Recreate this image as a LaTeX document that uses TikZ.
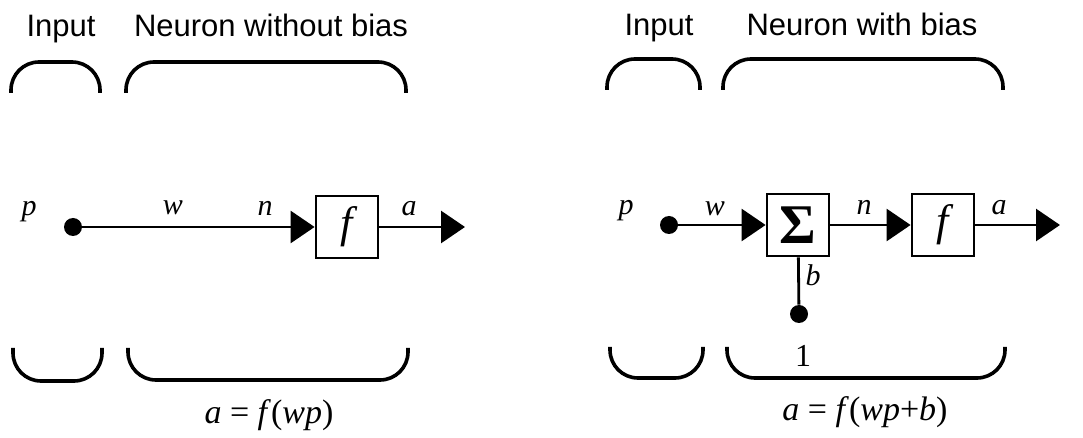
\documentclass[tikz,border=0pt]{standalone}
\usepackage{fontspec}
\setmainfont{Liberation Serif}
\newfontfamily\headfont{Liberation Sans}
\usetikzlibrary{arrows.meta,positioning}
\tikzset{
  hd/.style={font=\headfont\fontsize{15.5}{18}\selectfont,anchor=base,inner sep=0pt},
  lb/.style={font=\fontsize{15}{18}\selectfont\itshape,anchor=base,inner sep=0pt},
  eq/.style={font=\fontsize{17}{20}\selectfont,anchor=base,inner sep=0pt},
  blk/.style={draw,line width=1.4pt,minimum size=31pt,inner sep=0pt},
  knot/.style={circle,fill,minimum size=9pt,inner sep=0pt},
  wire/.style={line width=1.4pt,-{Triangle[length=12pt,width=16pt]}},
  brk/.style={line width=1.8pt,rounded corners=14pt}
}

\begin{document}
\begin{tikzpicture}[x=0.5pt,y=-0.5pt]
\useasboundingbox (0,0) rectangle (1083,438);
% neuron without bias
\node[hd] (inL) at (61,37) {Input};
\node[hd] (nrL) at (271,37) {Neuron without bias};
\draw[brk] (11,93) -- (11,62) -- (100,62) -- (100,93);
\draw[brk] (126,93) -- (126,62) -- (406,62) -- (406,93);
\draw[brk] (13,348) -- (13,381) -- (102,381) -- (102,348);
\draw[brk] (128,348) -- (128,380) -- (408,380) -- (408,348);
\node[knot] (pL) at (73,227) {};
\node[blk,font=\fontsize{22}{24}\selectfont\itshape] (fL) at (347,227) {f};
\coordinate (outL) at (465,227);
\draw[wire] (pL) -- (fL);
\draw[wire] (fL) -- (outL);
\node[lb] (pLlab) at (29,216) {p};
\node[lb] (wL) at (173,215) {w};
\node[lb] (nL) at (265,216) {n};
\node[lb] (aL) at (409,216) {a};
\node[eq] (eqL) at (269,424) {\textit{a} = \textit{f}(\textit{wp})};
% neuron with bias
\node[hd] (inR) at (659,36) {Input};
\node[hd] (nrR) at (862,36) {Neuron with bias};
\draw[brk] (607,90) -- (607,59) -- (700,59) -- (700,90);
\draw[brk] (723,90) -- (723,59) -- (1003,59) -- (1003,90);
\draw[brk] (610,347) -- (610,378) -- (703,378) -- (703,347);
\draw[brk] (727,347) -- (727,378) -- (1005,378) -- (1005,347);
\node[knot] (pR) at (669,225) {};
\node[blk,font=\fontsize{28}{30}\selectfont\bfseries] (sumR) at (798,225) {Σ};
\node[blk,font=\fontsize{22}{24}\selectfont\itshape] (fR) at (943,225) {f};
\node[knot] (oneR) at (799,314) {};
\coordinate (outR) at (1060,225);
\draw[wire] (pR) -- (sumR);
\draw[wire] (sumR) -- (fR);
\draw[wire] (fR) -- (outR);
\draw[line width=1.4pt] (oneR) -- (sumR);
\node[lb] (pRlab) at (626,215) {p};
\node[lb] (wR) at (715,216) {w};
\node[lb] (nR) at (864,215) {n};
\node[lb] (aR) at (999,215) {a};
\node[lb] (bR) at (813,286) {b};
\node[lb,font=\fontsize{16}{18}\selectfont] (oneLab) at (803,367) {1};
\node[eq] (eqR) at (865,421) {\textit{a} = \textit{f}(\textit{wp}+\textit{b})};
\end{tikzpicture}
\end{document}
